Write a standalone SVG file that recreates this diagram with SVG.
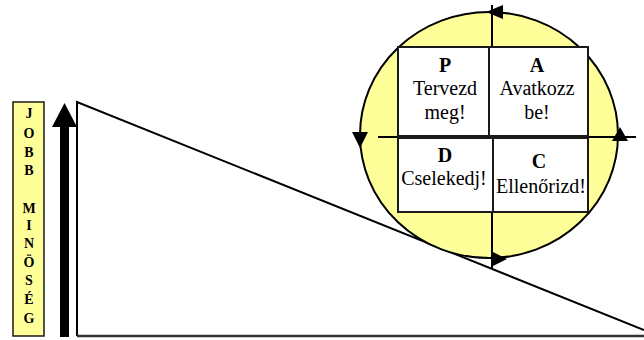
<svg xmlns="http://www.w3.org/2000/svg" width="644" height="340" viewBox="0 0 644 340">
<style>
.ln{stroke:#000;stroke-width:2;fill:none}
.box{fill:#fff;stroke:#1a1a1a;stroke-width:2}
.ax{fill:#000;stroke:none}
.big{font-family:"Liberation Serif","Times New Roman",serif;font-weight:bold;font-size:20px;fill:#000;text-anchor:middle}
.txt{font-family:"Liberation Serif","Times New Roman",serif;font-size:20px;fill:#000;text-anchor:middle}
.vl{font-family:"Liberation Serif","Times New Roman",serif;font-weight:bold;font-size:14px;fill:#000;text-anchor:middle}
</style>
<rect width="644" height="340" fill="#fff"/>
<g id="label">
<rect x="13" y="102" width="31" height="234" fill="#FFFF99" stroke="#1a1a1a" stroke-width="1.5"/>
<text class="vl" x="29" y="118">J</text>
<text class="vl" x="29" y="138">O</text>
<text class="vl" x="29" y="157">B</text>
<text class="vl" x="29" y="175">B</text>
<text class="vl" x="29" y="213">M</text>
<text class="vl" x="29" y="230">I</text>
<text class="vl" x="29" y="248">N</text>
<text class="vl" x="29" y="267">Ö</text>
<text class="vl" x="29" y="285">S</text>
<text class="vl" x="29" y="304">É</text>
<text class="vl" x="29" y="323">G</text>
</g>
<g id="up-arrow">
<rect x="60" y="125" width="9" height="212" fill="#000"/>
<polygon points="52,127 64.5,103 77,127" fill="#000"/>
</g>
<g id="slope">
<path class="ln" d="M77,336 L77,102 L644,330"/>
<line x1="77" y1="336" x2="644" y2="336" stroke="#333" stroke-width="2.5"/>
</g>
<g id="cycle">
<ellipse cx="489" cy="135" rx="129" ry="123" fill="#FFFF99" stroke="#000" stroke-width="2"/>
</g>
<g id="connectors">
<line class="ln" x1="378" y1="137" x2="636" y2="137"/>
<line class="ln" x1="492" y1="5" x2="492" y2="268"/>
<polygon class="ax" points="486,12 503,5 503,19"/>
<polygon class="ax" points="352,132 368,132 360,148"/>
<polygon class="ax" points="491,251 507,259 491,267"/>
<polygon class="ax" points="612,141 628,141 620,127"/>
</g>
<g id="P">
<rect class="box" x="398" y="47" width="91" height="89"/>
<text class="big" x="445" y="72">P</text>
<text class="txt" x="445" y="95">Tervezd</text>
<text class="txt" x="445" y="119">meg!</text>
</g>
<g id="A">
<rect class="box" x="489" y="47" width="99" height="89"/>
<text class="big" x="537" y="72">A</text>
<text class="txt" x="537" y="95">Avatkozz</text>
<text class="txt" x="537" y="119">be!</text>
</g>
<g id="D">
<rect class="box" x="398" y="138" width="95" height="74"/>
<text class="big" x="445" y="162">D</text>
<text class="txt" x="444" y="185">Cselekedj!</text>
</g>
<g id="C">
<rect class="box" x="493" y="138" width="95" height="74"/>
<text class="big" x="539" y="168">C</text>
<text class="txt" x="541" y="193">Ellenőrizd!</text>
</g>
</svg>
